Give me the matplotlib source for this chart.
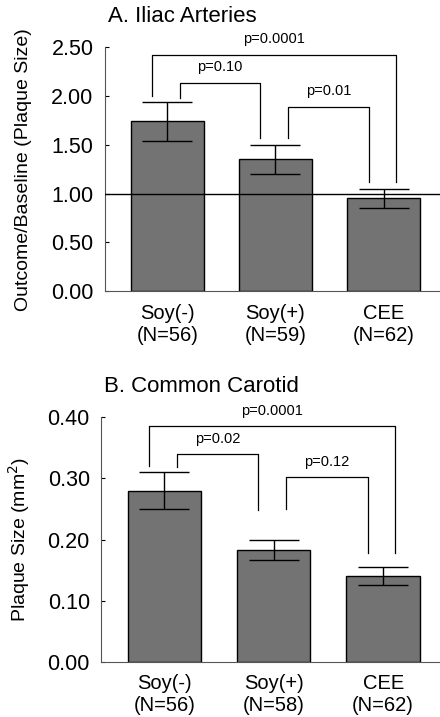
import numpy as np
import matplotlib.pyplot as plt
from matplotlib.transforms import ScaledTranslation

plt.rcParams['font.family'] = ['Liberation Sans', 'DejaVu Sans']

groups = ['Soy(-)', 'Soy(+)', 'CEE']

# Panel A: iliac arteries, outcome/baseline ratio
iliac_n = [56, 59, 62]
iliac_mean = [1.74, 1.35, 0.95]
iliac_se = [0.20, 0.15, 0.10]

# Panel B: common carotid plaque size (mm^2)
carotid_n = [56, 58, 62]
carotid_mean = [0.280, 0.183, 0.140]
carotid_se = [0.030, 0.017, 0.015]

# comparison brackets: (left bar, right bar, left leg bottom, top, right leg bottom, p text)
iliac_pairs = [(0, 2, 2.00, 2.42, 1.12, 'p=0.0001'),
               (0, 1, 1.98, 2.13, 1.57, 'p=0.10'),
               (1, 2, 1.57, 1.89, 1.12, 'p=0.01')]
carotid_pairs = [(0, 2, 0.320, 0.386, 0.178, 'p=0.0001'),
                 (0, 1, 0.318, 0.340, 0.248, 'p=0.02'),
                 (1, 2, 0.250, 0.302, 0.178, 'p=0.12')]

bar_color = '#737373'


def draw_panel(fig, ax, mean, se, n, pairs, ymax, step, title, ylabel, text_gap,
               label_x, refline=None):
    x = np.arange(len(groups))
    ax.bar(x, mean, width=0.67, color=bar_color, edgecolor='black', linewidth=1.0, zorder=2)
    ax.errorbar(x, mean, yerr=se, fmt='none', ecolor='black', elinewidth=1.0,
                capsize=18, capthick=1.0, zorder=3)
    if refline is not None:
        ax.axhline(refline, color='black', linewidth=1.0, zorder=4)

    for a, b, ya, ytop, yb, label in pairs:
        xa = a + (-0.14 if (b - a) == 2 else 0.115)
        xb = b + (0.11 if (b - a) == 2 else -0.14)
        ax.plot([xa, xa, xb, xb], [ya, ytop, ytop, yb], color='black', linewidth=0.9,
                clip_on=False, zorder=5)
        ax.text((xa + xb) / 2, ytop + text_gap, label, ha='center', va='center',
                fontsize=10.5, clip_on=False)

    ax.set_xlim(-0.58, 2.52)
    ax.set_ylim(0, ymax)
    ticks = np.arange(0, ymax + step / 2, step)
    ax.set_yticks(ticks)
    ax.set_yticklabels([f'{t:.2f}' for t in ticks], fontsize=15.5)
    ax.tick_params(axis='y', direction='in', length=3, width=0.8, pad=8)
    ax.set_xticks(x)
    ax.set_xticklabels([f'{g}\n(N={k})' for g, k in zip(groups, n)], fontsize=14.5,
                       linespacing=1.2)
    ax.tick_params(axis='x', length=0, pad=9)
    for side in ['top', 'right']:
        ax.spines[side].set_visible(False)
    ax.spines['left'].set_color('#555555')
    ax.spines['bottom'].set_color('#555555')
    ax.set_ylabel(ylabel, fontsize=14)
    ax.yaxis.set_label_coords(label_x, 0.5)
    # panel title about 31 px above the top of the axes
    ax.text(0.01, 1.0, title, fontsize=16, ha='left', va='center',
            transform=ax.transAxes + ScaledTranslation(0, 0.31, fig.dpi_scale_trans))


fig = plt.figure(figsize=(4.40, 7.17), dpi=100)
ax1 = fig.add_axes([0.2375, 0.594, 0.7625, 0.34])
ax2 = fig.add_axes([0.2295, 0.077, 0.7705, 0.341])

draw_panel(fig, ax1, iliac_mean, iliac_se, iliac_n, iliac_pairs, 2.5, 0.5,
           'A. Iliac Arteries', 'Outcome/Baseline (Plaque Size)', 0.165, -0.216,
           refline=1.0)
draw_panel(fig, ax2, carotid_mean, carotid_se, carotid_n, carotid_pairs, 0.4, 0.1,
           'B. Common Carotid', 'Plaque Size (mm$^2$)', 0.025, -0.204)

fig.savefig('out.png', dpi=100)
